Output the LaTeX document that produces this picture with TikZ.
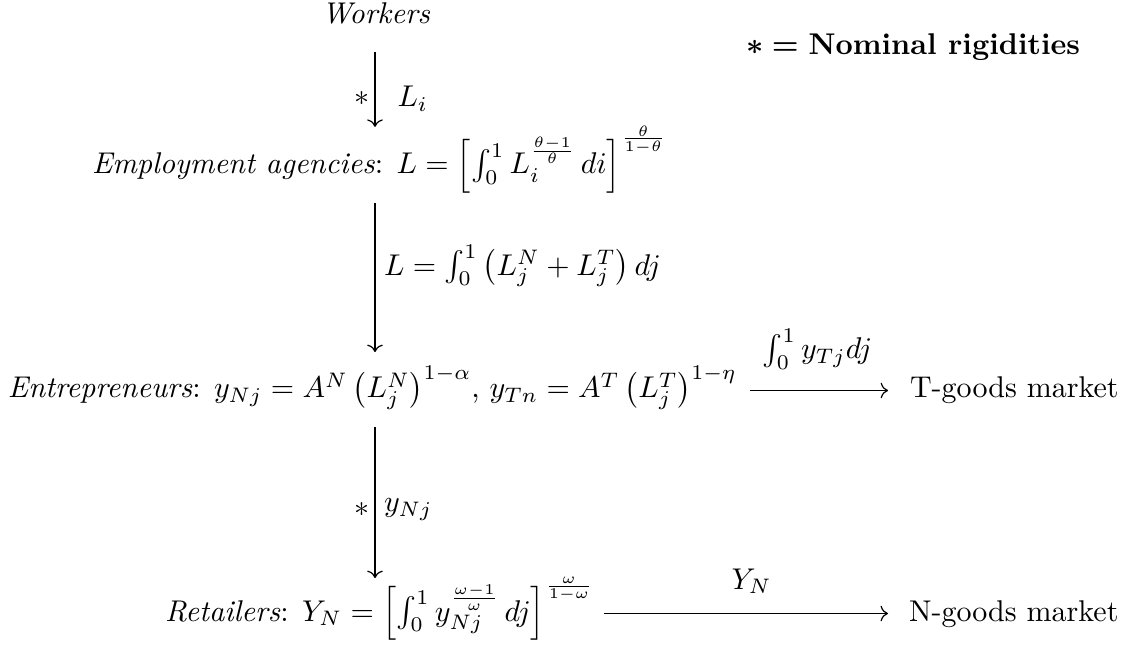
\documentclass[tikz,border=0pt]{standalone}
\usepackage{amsmath}
\usetikzlibrary{arrows.meta}
\begin{document}
\begin{tikzpicture}[x=0.3333pt, y=-0.3333pt,
  arr/.style={-{Computer Modern Rightarrow}, line width=0.4pt},
  txt/.style={inner sep=0pt, outer sep=0pt},
  lbl/.style={inner sep=0pt, outer sep=0pt}]
\useasboundingbox (0,0) rectangle (1147,655);
\coordinate (col) at (375,0);
\node[txt, anchor=base] (workers) at (376,24) {\textit{Workers}};
\node[txt, anchor=base east] (legend) at (1080,55) {$\boldsymbol{\ast}\boldsymbol{=}$ \textbf{Nominal rigidities}};
\node[txt, anchor=base west] (emp) at (92,174) {\textit{Employment agencies}: $L=\left[\int_0^1 L_i^{\frac{\theta-1}{\theta}}\,di\right]^{\frac{\theta}{1-\theta}}$};
\node[txt, anchor=base west] (entr) at (8,398) {\textit{Entrepreneurs}: $y_{Nj}=A^N\left(L_j^N\right)^{1-\alpha}$, $y_{Tn}=A^T\left(L_j^T\right)^{1-\eta}$};
\node[txt, anchor=base west] (tgm) at (910,398) {T-goods market};
\node[txt, anchor=base west] (ret) at (165,621) {\textit{Retailers}: $Y_N=\left[\int_0^1 y_{Nj}^{\frac{\omega-1}{\omega}}\,dj\right]^{\frac{\omega}{1-\omega}}$};
\node[txt, anchor=base west] (ngm) at (909,621) {N-goods market};
\draw[arr, shorten <=9.3pt, shorten >=15.7pt] (workers.base -| col) -- (emp.base -| col)
  node[lbl, midway, left=2pt] {$\ast$} node[lbl, midway, right=7.5pt] {$L_i$};
\draw[arr, shorten <=9.7pt, shorten >=15.3pt] (emp.base -| col) -- (entr.base -| col)
  node[lbl, pos=0.41, right=3pt] {$L=\int_0^1\left(L_j^N+L_j^T\right)dj$};
\draw[arr, shorten <=9.7pt, shorten >=14.3pt] (entr.base -| col) -- (ret.base -| col)
  node[lbl, midway, left=2pt] {$\ast$} node[lbl, midway, right=3pt] {$y_{Nj}$};
\draw[arr, shorten <=4.3pt, shorten >=7.3pt] ([yshift=2.5pt]entr.base east) -- ([yshift=2.5pt]tgm.base west)
  node[lbl, midway, above=7pt, xshift=-2pt] {$\int_0^1 y_{Tj}dj$};
\draw[arr, shorten <=3.3pt, shorten >=7pt] ([yshift=2.5pt]ret.base east) -- ([yshift=2.5pt]ngm.base west)
  node[lbl, midway, above=6.5pt] {$Y_N$};
\end{tikzpicture}
\end{document}
